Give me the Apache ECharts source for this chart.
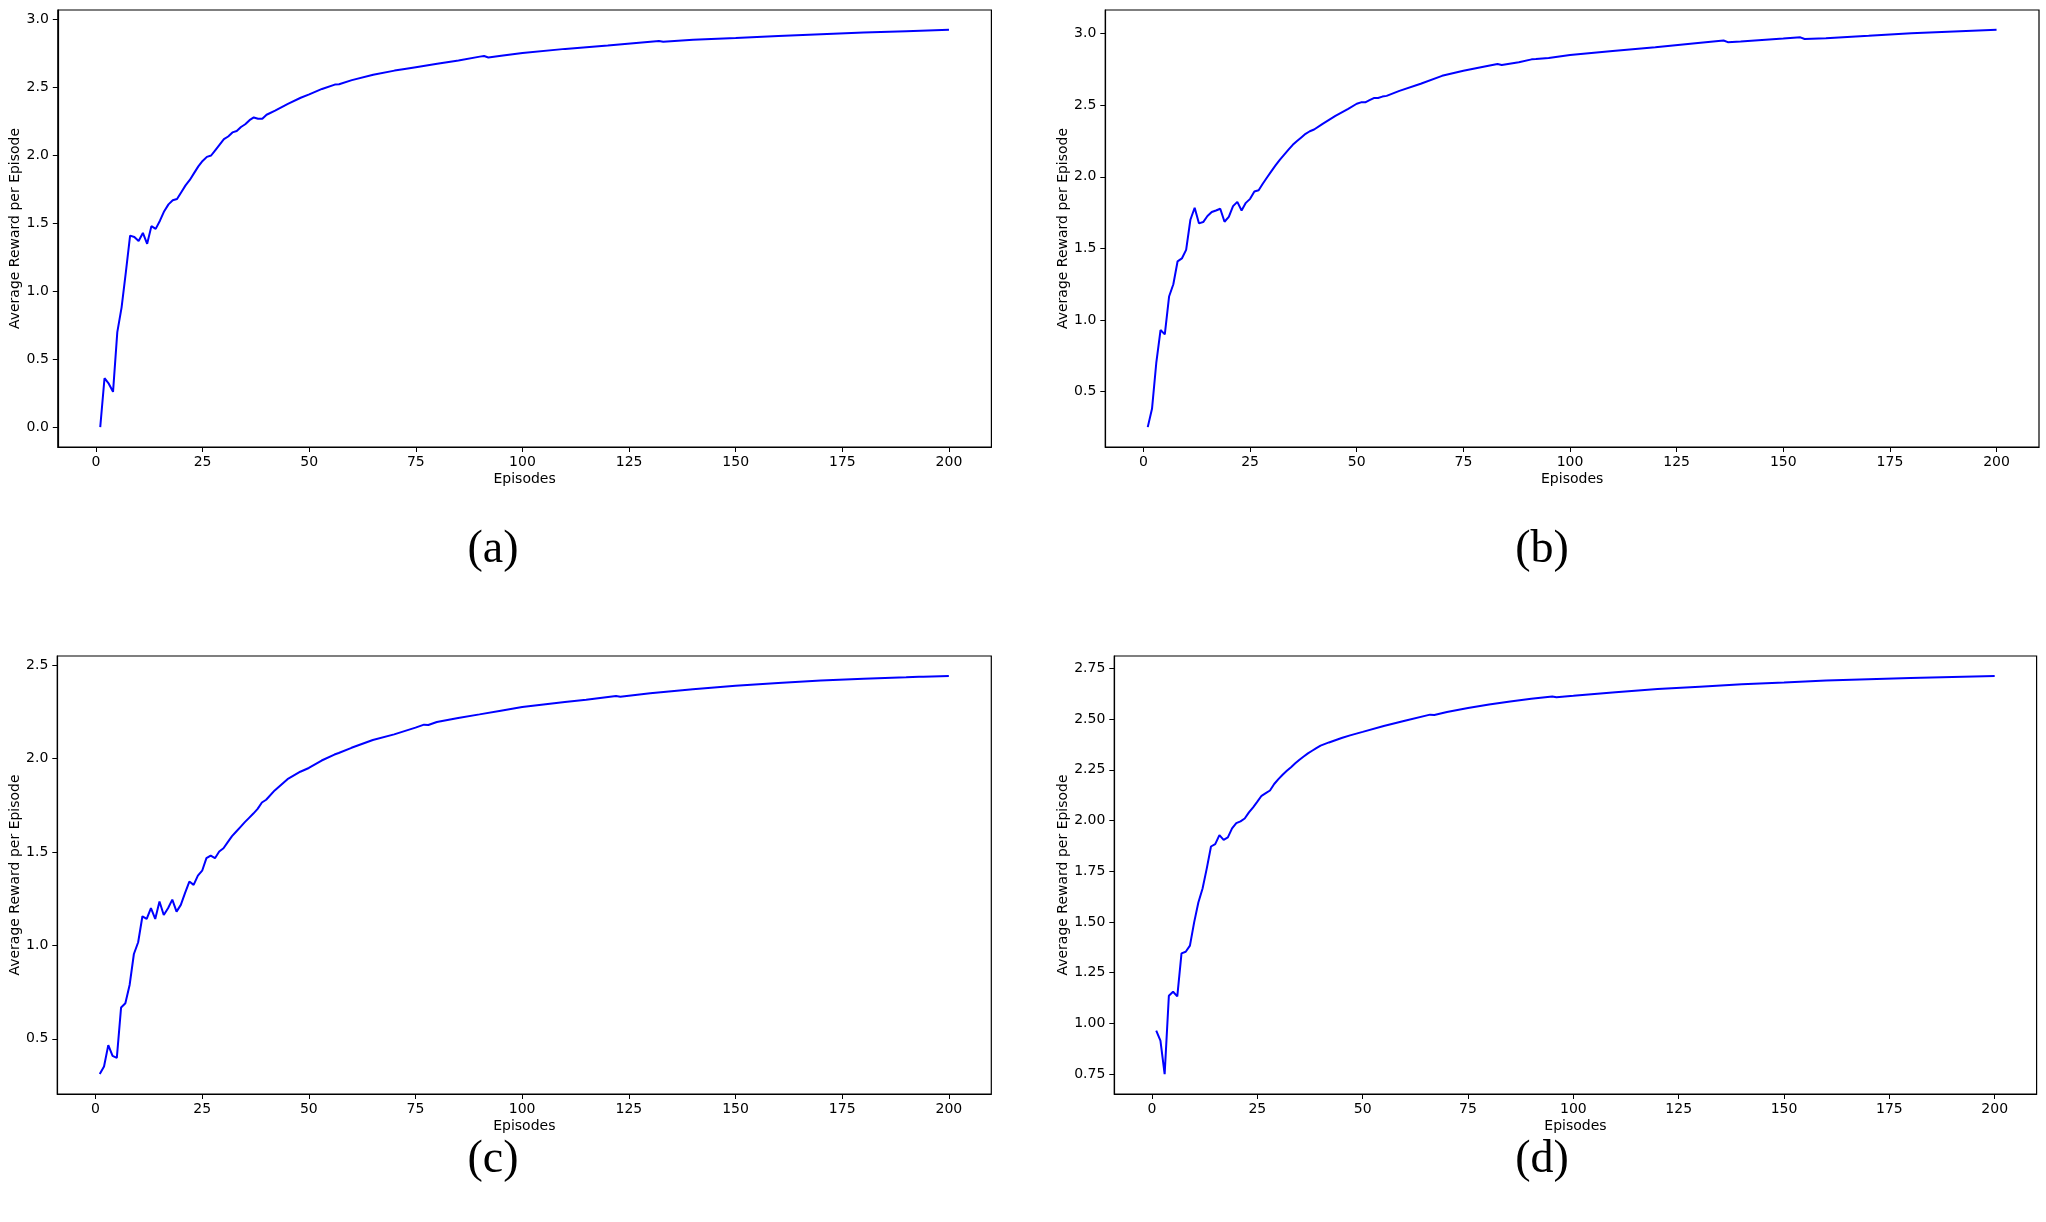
<!DOCTYPE html>
<html>
<head>
<meta charset="utf-8">
<script src="https://cdn.jsdelivr.net/npm/echarts@6/dist/echarts.min.js"></script>
<style>
  html, body { margin: 0; padding: 0; background: #fff; }
  #main { width: 2046px; height: 1222px; }
</style>
</head>
<body>
<div id="main"></div>
<script>
// episodes 1..40 one by one, then the smooth tail at the points
const early = [1,2,3,4,5,6,7,8,9,10,11,12,13,14,15,16,17,18,19,20,21,22,23,24,25,26,27,28,29,30,31,32,33,34,35,36,37,38,39,40]

const epA = early.concat([42,45,48,50,53,56,57,60,65,70,72,75,80,85,90,91,92,95,100,110,120,132,133,140,150,160,170,180,190,200])
const rewardA = [0.00,0.36,0.32,0.26,0.70,0.88,1.14,1.41,1.40,1.37,1.43,1.35,1.48,1.46,1.52,1.59,1.64,1.67,1.68,1.73,
  1.78,1.82,1.87,1.92,1.96,1.99,2.00,2.04,2.08,2.12,2.14,2.17,2.18,2.21,2.23,2.26,2.28,2.27,2.27,2.30,
  2.33,2.38,2.425,2.45,2.49,2.522,2.525,2.555,2.595,2.625,2.635,2.65,2.675,2.70,2.728,2.732,2.722,2.735,2.755,2.785,
  2.81,2.843,2.838,2.853,2.866,2.88,2.893,2.905,2.915,2.925]

const epB = early.concat([42,45,48,50,51,52,53,54,55,56,57,60,65,70,75,80,83,84,88,91,92,95,100,110,120,130,136,137,140,150,154,155,160,170,180,190,200])
const rewardB = [0.252,0.38,0.70,0.93,0.90,1.164,1.25,1.41,1.43,1.49,1.70,1.784,1.675,1.684,1.726,1.754,1.765,1.777,1.686,1.72,
  1.795,1.825,1.765,1.818,1.846,1.897,1.906,1.953,1.997,2.04,2.081,2.12,2.155,2.19,2.223,2.25,2.275,2.30,2.318,2.33,
  2.37,2.425,2.475,2.51,2.52,2.52,2.535,2.55,2.55,2.56,2.565,2.60,2.65,2.705,2.74,2.77,2.787,2.78,2.80,2.82,
  2.822,2.83,2.85,2.878,2.905,2.935,2.952,2.94,2.945,2.965,2.974,2.962,2.968,2.985,3.003,3.015,3.026]

const epC = early.concat([42,45,48,50,53,56,57,60,65,70,75,77,78,80,85,90,95,100,105,110,115,122,123,130,140,150,160,170,180,190,193,194,200])
const rewardC = [0.311,0.352,0.466,0.409,0.398,0.668,0.69,0.788,0.954,1.017,1.156,1.142,1.199,1.142,1.235,1.163,1.199,1.245,1.181,1.217,
  1.281,1.342,1.324,1.374,1.40,1.467,1.481,1.467,1.503,1.52,1.553,1.585,1.61,1.635,1.66,1.683,1.706,1.731,1.765,1.78,
  1.83,1.89,1.93,1.95,1.99,2.022,2.03,2.058,2.10,2.13,2.166,2.182,2.18,2.196,2.218,2.237,2.257,2.276,2.29,2.303,
  2.315,2.335,2.332,2.35,2.372,2.39,2.405,2.418,2.428,2.436,2.439,2.438,2.443]

const epD = early.concat([42,45,47,50,55,60,66,67,70,75,80,85,90,95,96,100,110,120,130,140,150,160,170,180,190,200])
const rewardD = [0.964,0.915,0.75,1.136,1.156,1.133,1.345,1.353,1.383,1.498,1.596,1.665,1.764,1.872,1.884,1.928,1.905,1.917,1.961,1.987,
  1.996,2.01,2.04,2.065,2.093,2.122,2.135,2.148,2.18,2.204,2.226,2.245,2.263,2.282,2.30,2.316,2.331,2.344,2.357,2.369,
  2.385,2.407,2.42,2.437,2.466,2.492,2.522,2.52,2.535,2.555,2.572,2.587,2.60,2.612,2.608,2.615,2.633,2.648,2.66,2.672,
  2.68,2.69,2.697,2.703,2.708,2.713]

const xTicks = [0,25,50,75,100,125,150,175,200]
const yTicksA = [0.0,0.5,1.0,1.5,2.0,2.5,3.0]
const yTicksB = [0.5,1.0,1.5,2.0,2.5,3.0]
const yTicksC = [0.5,1.0,1.5,2.0,2.5]
const yTicksD = [0.75,1.00,1.25,1.50,1.75,2.00,2.25,2.50,2.75]
const panelLabels = ['(a)','(b)','(c)','(d)']

// panel boxes in px, and where the (a)/(b)... caption sits
const panels = [
  {ep: epA, val: rewardA, ticks: yTicksA, dec: 1, left: 57.8,  top: 10,  width: 933.6, height: 437, gap: 34, cap: [493, 550]},
  {ep: epB, val: rewardB, ticks: yTicksB, dec: 1, left: 1105.3, top: 10,  width: 933.7, height: 437, gap: 34, cap: [1542, 550]},
  {ep: epC, val: rewardC, ticks: yTicksC, dec: 1, left: 57.3,  top: 656, width: 934,   height: 438, gap: 34, cap: [493, 1160]},
  {ep: epD, val: rewardD, ticks: yTicksD, dec: 2, left: 1114.3, top: 656, width: 922.3, height: 438, gap: 43, cap: [1542, 1160]}
]

// matplotlib style 5% margins
function padded(arr) {
  const lo = Math.min(...arr), hi = Math.max(...arr)
  const d = (hi - lo) * 0.05
  return [lo - d, hi + d]
}

const font = 'DejaVu Sans'
const grid = [], xAxis = [], yAxis = [], series = [], graphic = []

panels.forEach((p, i) => {
  grid.push({
    left: p.left, top: p.top, width: p.width, height: p.height,
    show: true, borderColor: '#000', borderWidth: 1.2, containLabel: false
  })
  const xr = padded(p.ep)
  xAxis.push({
    type: 'value', gridIndex: i, min: xr[0], max: xr[1],
    name: 'Episodes', nameLocation: 'middle', nameGap: 25,
    nameTextStyle: {fontFamily: font, fontSize: 14, color: '#000'},
    axisLine: {show: true, onZero: false, lineStyle: {color: '#000', width: 1.2}},
    axisTick: {show: true, length: 5, lineStyle: {color: '#000'}, customValues: xTicks},
    axisLabel: {fontFamily: font, fontSize: 14, color: '#000', margin: 8, customValues: xTicks},
    splitLine: {show: false}
  })
  const yr = padded(p.val)
  yAxis.push({
    type: 'value', gridIndex: i, min: yr[0], max: yr[1],
    name: 'Average Reward per Episode', nameLocation: 'middle', nameGap: p.gap,
    nameTextStyle: {fontFamily: font, fontSize: 14, color: '#000'},
    axisLine: {show: true, onZero: false, lineStyle: {color: '#000', width: 1.2}},
    axisTick: {show: true, length: 5, lineStyle: {color: '#000'}, customValues: p.ticks},
    axisLabel: {fontFamily: font, fontSize: 14, color: '#000', margin: 9, customValues: p.ticks,
      formatter: v => v.toFixed(p.dec)},
    splitLine: {show: false}
  })
  series.push({
    type: 'line', xAxisIndex: i, yAxisIndex: i,
    data: p.ep.map((e, k) => [e, p.val[k]]),
    symbol: 'none', lineStyle: {color: '#0000ff', width: 2}
  })
  graphic.push({
    type: 'text', x: p.cap[0], y: p.cap[1],
    style: {text: panelLabels[i], fontFamily: 'Liberation Serif', fontSize: 46, fill: '#000',
      align: 'center', verticalAlign: 'middle'}
  })
})

const myChart = echarts.init(document.getElementById('main'))
myChart.setOption({
  animation: false,
  backgroundColor: '#fff',
  grid, xAxis, yAxis, series, graphic
})
</script>
</body>
</html>
